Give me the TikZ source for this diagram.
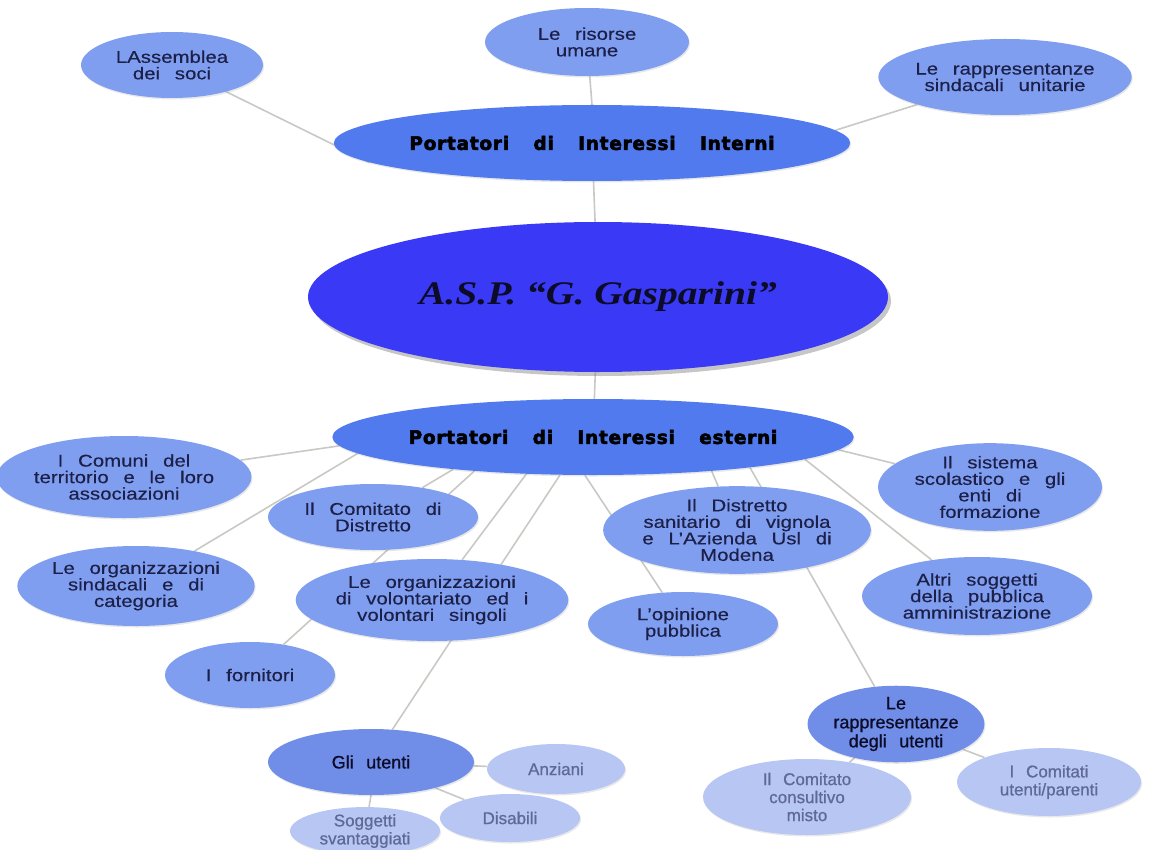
\documentclass[tikz,border=0pt]{standalone}
\usepackage{fontspec}
\setmainfont{Liberation Sans}
\newfontfamily\leaffont[FakeStretch=1.2,WordSpace=2.6,FakeBold=0.4]{Liberation Sans}
\newfontfamily\hubfont[WordSpace=3.4,LetterSpace=4,FakeBold=3]{DejaVu Sans Bold}
\newfontfamily\lowfont[WordSpace=2.5,FakeBold=0.8]{Liberation Sans}
\newfontfamily\titlefont[FakeStretch=1.2]{Liberation Serif}
\usepackage{tikz}
\usetikzlibrary{shapes,positioning,calc,shadows,backgrounds}

\definecolor{leafblue}{RGB}{128,158,240}
\definecolor{hubblue}{RGB}{80,122,238}
\definecolor{midblue}{RGB}{112,142,232}
\definecolor{paleblue}{RGB}{184,198,244}
\definecolor{coreblue}{RGB}{58,58,246}
\definecolor{inkblue}{RGB}{28,32,72}
\definecolor{darkink}{RGB}{12,12,40}
\definecolor{paleink}{RGB}{95,105,150}
\definecolor{wiregrey}{RGB}{200,200,196}

\tikzset{
  leaf/.style={ellipse, fill=leafblue, text=inkblue, align=center, inner sep=0pt,
    font=\leaffont\fontsize{17}{16.5}\selectfont,
    drop shadow={shadow xshift=1pt, shadow yshift=-1.5pt, opacity=0.18}},
  hub/.style={leaf, fill=hubblue, text=black, font=\hubfont\fontsize{18.5}{20}\selectfont},
  user/.style={leaf, fill=midblue, text=darkink, font=\lowfont\fontsize{18}{19}\selectfont},
  sub/.style={leaf, fill=paleblue, text=paleink, font=\lowfont\fontsize{17}{18}\selectfont},
  wire/.style={draw=wiregrey, line width=1.6pt},
}

\begin{document}
\begin{tikzpicture}[x=1pt,y=-1pt]
\useasboundingbox (0,0) rectangle (1158,850);

% centre
\node[ellipse, fill=coreblue, minimum width=580pt, minimum height=150pt,
  drop shadow={shadow xshift=3pt, shadow yshift=-4pt, opacity=0.45},
  font=\titlefont\bfseries\itshape\fontsize{33}{35}\selectfont, text=darkink] (asp) at (598,297) {A.S.P. “G. Gasparini”};

% internal stakeholders
\node[hub, minimum width=516pt, minimum height=76pt] (int) at (592,143) {Portatori di Interessi Interni};
\node[leaf, minimum width=182pt, minimum height=66pt] (assem) at (172,65) {LAssemblea\\dei soci};
\node[leaf, minimum width=204pt, minimum height=68pt] (risorse) at (587,42) {Le risorse\\umane};
\node[leaf, minimum width=252pt, minimum height=76pt] (rsu) at (1005,77) {Le rappresentanze\\sindacali unitarie};

% external stakeholders
\node[hub, minimum width=516pt, minimum height=76pt] (ext) at (593,437) {Portatori di Interessi esterni};
\node[leaf, minimum width=226pt, minimum height=82pt] (comuni) at (124,477) {I Comuni del\\territorio e le loro\\associazioni};
\node[leaf, minimum width=210pt, minimum height=66pt] (comdist) at (373,517) {Il Comitato di\\Distretto};
\node[leaf, minimum width=230pt, minimum height=80pt] (sind) at (136,586) {Le organizzazioni\\sindacali e di\\categoria};
\node[leaf, minimum width=230pt, minimum height=82pt] (volont) at (432,600) {Le organizzazioni\\di volontariato ed i\\volontari singoli};
\node[leaf, minimum width=170pt, minimum height=66pt] (fornit) at (250,675) {I fornitori};
\node[leaf, minimum width=232pt, minimum height=82pt] (distr) at (737,530) {Il Distretto\\sanitario di vignola\\e L’Azienda Usl di\\Modena};
\node[leaf, minimum width=190pt, minimum height=64pt] (opin) at (683,624) {L’opinione\\pubblica};
\node[leaf, minimum width=224pt, minimum height=80pt] (scuola) at (990,487) {Il sistema\\scolastico e gli\\enti di\\formazione};
\node[leaf, minimum width=230pt, minimum height=78pt] (altri) at (977,596) {Altri soggetti\\della pubblica\\amministrazione};

% users
\node[user, minimum width=206pt, minimum height=66pt] (utenti) at (371,762) {Gli utenti};
\node[sub, minimum width=138pt, minimum height=50pt] (anziani) at (556,769) {Anziani};
\node[sub, minimum width=140pt, minimum height=48pt] (disab) at (510,818) {Disabili};
\node[sub, minimum width=150pt, minimum height=46pt] (svant) at (365,831) {Soggetti\\svantaggiati};
\node[user, minimum width=176pt, minimum height=72pt] (rappu) at (896,724) {Le\\rappresentanze\\degli utenti};
\node[sub, minimum width=208pt, minimum height=76pt] (ccm) at (807,797) {Il Comitato\\consultivo\\misto};
\node[sub, minimum width=184pt, minimum height=68pt] (cup) at (1049,782) {I Comitati\\utenti/parenti};

% connectors
\begin{pgfonlayer}{background}
\draw[wire] (int) -- (asp) -- (ext);
\draw[wire] (int.185) -- (assem);
\draw[wire] (int.90) -- (risorse);
\draw[wire] (int.3) -- (rsu);
\draw[wire] (ext.182) -- (comuni);
\draw[wire] (ext.184) -- (sind);
\draw[wire] (ext.193) -- (comdist);
\draw[wire] (ext.196) -- (fornit);
\draw[wire] (ext.209) -- (volont);
\draw[wire] (ext.229) -- (utenti);
\draw[wire] (ext.258) -- (opin);
\draw[wire] (ext.344) -- (distr);
\draw[wire] (ext.349) -- (rappu);
\draw[wire] (ext.354) -- (altri);
\draw[wire] (ext.357) -- (scuola);
\draw[wire] (utenti) -- (anziani);
\draw[wire] (utenti) -- (disab);
\draw[wire] (utenti.270) -- (svant);
\draw[wire] (rappu) -- (ccm);
\draw[wire] (rappu) -- (cup);
\end{pgfonlayer}
\end{tikzpicture}
\end{document}
